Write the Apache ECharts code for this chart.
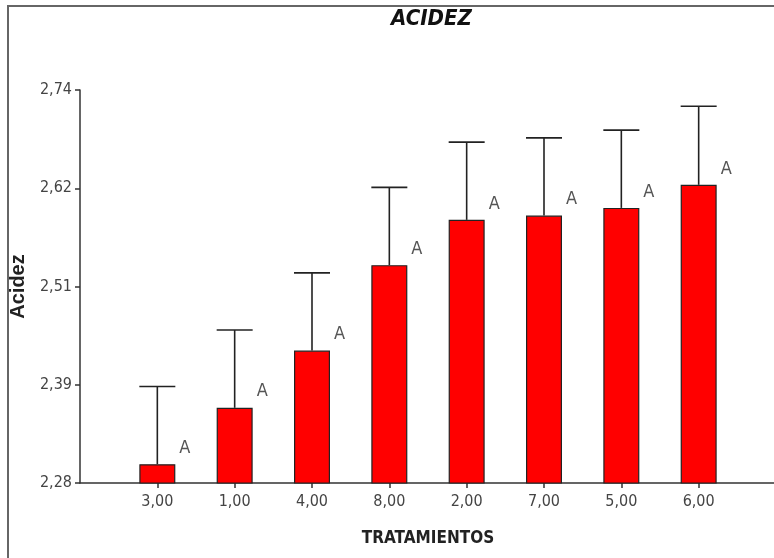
<!DOCTYPE html>
<html>
<head>
<meta charset="utf-8">
<script src="https://cdn.jsdelivr.net/npm/echarts@6/dist/echarts.min.js"></script>
<style>
  html, body { margin: 0; padding: 0; background: #fff; }
  #acidez { width: 774px; height: 558px; }
</style>
</head>
<body>
<div id="acidez"></div>
<script>
// tratamientos en el orden del grafico
var categories = ['3,00', '1,00', '4,00', '8,00', '2,00', '7,00', '5,00', '6,00'];
var categoryPos = [1, 2, 3, 4, 5, 6, 7, 8];
// medias y extremo superior de la barra de error
var means = [2.302, 2.368, 2.435, 2.535, 2.588, 2.593, 2.602, 2.629];
var upper = [2.393, 2.459, 2.526, 2.626, 2.679, 2.684, 2.693, 2.721];
var groups = ['A', 'A', 'A', 'A', 'A', 'A', 'A', 'A'];
// marcas del eje Y
var yTickValues = [2.28, 2.395, 2.51, 2.625, 2.74];
var yTickLabels = ['2,28', '2,39', '2,51', '2,62', '2,74'];

var narrow = '"Liberation Sans Narrow", "DejaVu Sans Condensed", sans-serif';

var barData = [], errData = [];
for (var i = 0; i < categories.length; i++) {
    barData.push([categoryPos[i], means[i]]);
    errData.push([categoryPos[i], means[i], upper[i]]);
}

var myChart = echarts.init(document.getElementById('acidez'), null, {renderer: 'canvas'});
var option = {
    animation: false,
    backgroundColor: '#fff',
    title: {
        text: 'ACIDEZ',
        left: 391,
        top: 8,
        padding: 0,
        textStyle: {
            fontFamily: narrow,
            fontSize: 22,
            fontWeight: 'bold',
            fontStyle: 'italic',
            color: '#111'
        }
    },
    graphic: [{
        type: 'rect',
        silent: true,
        shape: {x: 8, y: 6, width: 800, height: 600},
        style: {fill: null, stroke: '#666', lineWidth: 2}
    }],
    grid: {
        left: 80,
        right: -2,
        top: 90,
        bottom: 75,
        containLabel: false,
        outerBoundsMode: 'none'
    },
    xAxis: {
        type: 'value',
        min: 0,
        max: 9,
        name: 'TRATAMIENTOS',
        nameLocation: 'middle',
        nameGap: 47,
        nameTextStyle: {
            fontFamily: narrow,
            fontSize: 17,
            fontWeight: 'bold',
            color: '#222'
        },
        splitLine: {show: false},
        axisLine: {show: true, lineStyle: {color: '#333', width: 1.5}},
        axisTick: {show: true, customValues: categoryPos, length: 5, lineStyle: {color: '#333', width: 1.5}},
        axisLabel: {
            customValues: categoryPos,
            margin: 11,
            fontFamily: narrow,
            fontSize: 16,
            color: '#444',
            formatter: function (v) {
                return categories[categoryPos.indexOf(Math.round(v))] || '';
            }
        }
    },
    yAxis: {
        type: 'value',
        min: 2.28,
        max: 2.74,
        name: 'Acidez',
        nameLocation: 'middle',
        nameRotate: 90,
        nameGap: 52,
        nameTextStyle: {
            fontFamily: '"Liberation Sans", Arial, sans-serif',
            fontSize: 20,
            fontWeight: 'bold',
            color: '#222'
        },
        splitLine: {show: false},
        axisLine: {show: true, lineStyle: {color: '#333', width: 1.5}},
        axisTick: {show: true, customValues: yTickValues, length: 5, lineStyle: {color: '#333', width: 1.5}},
        axisLabel: {
            customValues: yTickValues,
            margin: 8,
            fontFamily: narrow,
            fontSize: 16,
            color: '#444',
            formatter: function (v) {
                var k = 0, best = Infinity;
                for (var j = 0; j < yTickValues.length; j++) {
                    var d = Math.abs(yTickValues[j] - v);
                    if (d < best) { best = d; k = j; }
                }
                return yTickLabels[k];
            }
        }
    },
    series: [
        {
            name: 'Acidez',
            type: 'bar',
            data: barData,
            barWidth: 36,
            itemStyle: {color: '#ff0000', borderColor: '#222', borderWidth: 1.2},
            label: {
                show: true,
                position: [40, -25],
                fontFamily: narrow,
                fontSize: 18,
                color: '#555',
                formatter: function (p) { return groups[p.dataIndex]; }
            },
            z: 2
        },
        {
            name: 'error',
            type: 'custom',
            data: errData,
            encode: {x: 0, y: [1, 2]},
            z: 3,
            renderItem: function (params, api) {
                var x = api.value(0);
                var base = api.coord([x, api.value(1)]);
                var top = api.coord([x, api.value(2)]);
                var half = 18;
                var st = {stroke: '#222', lineWidth: 1.6};
                return {
                    type: 'group',
                    children: [
                        {type: 'line', shape: {x1: base[0], y1: base[1], x2: top[0], y2: top[1]}, style: st},
                        {type: 'line', shape: {x1: top[0] - half, y1: top[1], x2: top[0] + half, y2: top[1]}, style: st}
                    ]
                };
            }
        }
    ]
};
myChart.setOption(option);
</script>
</body>
</html>
